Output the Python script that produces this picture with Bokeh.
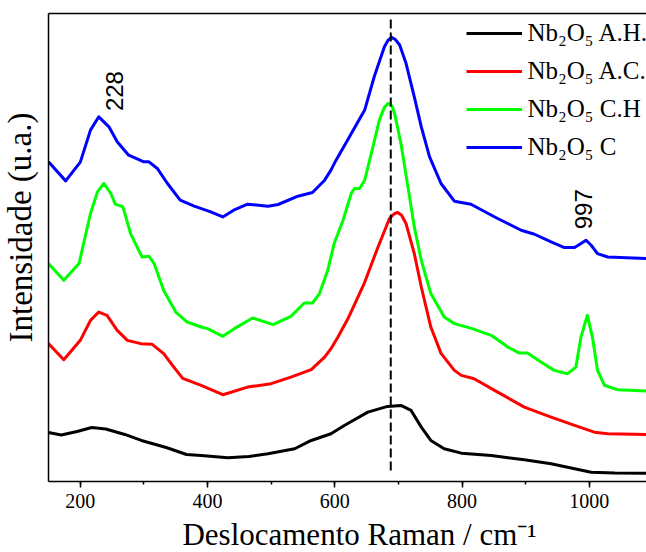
from bokeh.plotting import figure
from bokeh.models import (Range1d, LinearAxis, SingleIntervalTicker, FixedTicker,
                          Legend, LegendItem, ColumnDataSource, Label)
from bokeh.embed import file_html
from bokeh.resources import INLINE
from bokeh.core.properties import value

# ---------------- data (Raman shift in cm-1, intensity in arbitrary units) -------------
x_ah = [150, 170, 195, 218, 240, 270, 296, 335, 367, 390, 432, 465, 495, 537, 563, 594,
        615, 626, 652, 683, 704, 720, 736, 751, 772, 799, 846, 898, 940, 977, 1003, 1040, 1090]
y_ah = [50, 47.4, 51, 55, 53.5, 48, 42, 35, 28, 27, 24.7, 26, 28.7, 33.7, 42, 48.7,
        57, 61, 70.3, 76, 77, 72, 55.3, 42, 33.7, 29.3, 27, 22.7, 18.7, 13.7, 10.3, 9.5, 9.3]

x_ac = [150, 174, 200, 216, 229, 242, 258, 274, 295, 313, 331, 347, 361, 390, 424, 463,
        500, 531, 563, 584, 594, 605, 621, 647, 668, 686, 694, 699, 705, 712, 725, 736, 751, 767,
        788, 799, 819, 856, 898, 940, 977, 1008, 1029, 1090]
y_ac = [138.7, 122.7, 142, 162, 170.3, 167, 152, 142, 138.7, 138, 128.7, 115.3, 104, 97, 87.7, 95.3,
        98.7, 105.3, 112.7, 125.3, 133.7, 145.3, 164, 200, 235.3, 263.7, 268.7, 269.7, 267, 258.7, 228.7, 195.3, 155.3, 129,
        112, 107, 103.7, 90.3, 75.3, 65.3, 57, 50.3, 48.7, 48]

x_ch = [150, 174, 198, 216, 227, 237, 248, 255, 267, 279, 297, 308, 316, 331, 350, 368,
        390, 400, 424, 442, 471, 503, 531, 552, 565, 576, 589, 599, 613, 626, 631, 639,
        647, 660, 670, 678, 684, 690, 694, 704, 715, 725, 736, 751, 772, 788, 816, 846, 872, 890,
        903, 924, 945, 966, 979, 987, 997, 1005, 1013, 1024, 1045, 1090]
y_ch = [218.7, 202, 218.7, 268.7, 290.3, 298.7, 288.7, 278, 275.3, 248.7, 225.3, 226, 218.7, 192, 170.3, 160.3,
        155.3, 153.7, 146, 153.7, 164.3, 157.7, 166, 179.3, 179.3, 188.7, 212, 238.7, 262, 289, 293.7, 293.7,
        302, 335.3, 362, 374.7, 378.7, 376, 368.7, 338.7, 295.3, 255.3, 222, 188.7, 165.3, 158.7, 153.7, 147, 135.3, 129.3,
        129.3, 120.3, 112, 108.7, 115.3, 145.3, 167, 145.3, 112, 97, 92.7, 91.3]

x_c = [150, 177, 200, 216, 229, 245, 258, 276, 300, 308, 321, 337, 357, 379, 405, 424,
       441, 463, 495, 511, 542, 565, 584, 594, 602, 620, 647, 662, 678, 684, 689, 695, 702, 712,
       725, 736, 749, 767, 788, 814, 856, 893, 914, 940, 961, 977, 987, 995, 1003, 1013,
       1029, 1090]
y_c = [320.3, 301.3, 320, 352, 365.3, 355.3, 340.3, 327, 320.3, 320.3, 313.7, 298.7, 282, 276, 270.3, 265.3,
       272, 278, 276, 277.7, 286, 289.7, 302, 312, 322, 342, 372, 405.3, 435.3, 442, 444.7, 442.7, 437, 418.7,
       385.3, 355.3, 325.3, 298.7, 281, 278, 263.7, 252, 248, 240.3, 234.7, 234.7, 238.7, 242, 237, 228.7,
       225.3, 223.7]

series_labels = ["Nb\u2082O\u2085 A.H.", "Nb\u2082O\u2085 A.C.", "Nb\u2082O\u2085 C.H", "Nb\u2082O\u2085 C"]
series_colors = ["#000000", "#ff0000", "#00ff00", "#0000ff"]

peak_main = 688            # dashed reference line position
peak_labels = ["228", "997"]
peak_x = [228, 997]
peak_y = [371, 253]
peak_dx = [16, -4]

x_title = "Deslocamento Raman / cm\u207b\u00b9"
y_title = "Intensidade (u.a.)"

x_ticks_interval = 200
x_start, x_end = 150, 1090
y_start, y_end = 1, 468.5

# ---------------- figure ----------------
serif = "Liberation Serif"
p = figure(width=646, height=552, output_backend="svg", toolbar_location=None,
           x_range=Range1d(x_start, x_end), y_range=Range1d(y_start, y_end),
           min_border_left=48, min_border_top=13, min_border_right=0, min_border_bottom=71,
           background_fill_color="white", border_fill_color="white")
p.outline_line_color = None
p.grid.visible = False

xa = p.xaxis[0]
xa.ticker = SingleIntervalTicker(interval=x_ticks_interval, num_minor_ticks=2)
xa.major_label_text_font = serif
xa.major_label_text_font_size = "20px"
xa.major_label_text_color = "#000000"
xa.major_label_standoff = 6
xa.axis_line_width = 1.5
xa.axis_line_color = "#000000"
xa.major_tick_line_width = 1.5
xa.minor_tick_line_width = 1.5
xa.major_tick_in = 0
xa.major_tick_out = 6
xa.minor_tick_in = 0
xa.minor_tick_out = 3

ya = p.yaxis[0]
ya.ticker = FixedTicker(ticks=[])
ya.major_label_text_font_size = "0px"
ya.axis_line_width = 1.5
ya.axis_line_color = "#000000"
ya.major_tick_line_color = None
ya.minor_tick_line_color = None

top = LinearAxis(ticker=FixedTicker(ticks=[]), major_label_text_font_size="0px",
                 axis_line_width=1.5, axis_line_color="#000000",
                 major_tick_line_color=None, minor_tick_line_color=None)
p.add_layout(top, "above")

# axis titles, in the side panels
p.add_layout(Label(x=311, y=11, x_units="screen", y_units="screen", text=x_title,
                   text_align="center", text_baseline="alphabetic",
                   text_font=serif, text_font_size="31px", text_color="#000000"), "below")
p.add_layout(Label(x=8, y=254, x_units="screen", y_units="screen", text=y_title,
                   angle=1.5708, text_align="center", text_baseline="alphabetic",
                   text_font=serif, text_font_size="33px", text_color="#000000"), "left")

# ---------------- curves ----------------
renderers = []
for xs, ys, col in [(x_ah, y_ah, series_colors[0]), (x_ac, y_ac, series_colors[1]),
                    (x_ch, y_ch, series_colors[2]), (x_c, y_c, series_colors[3])]:
    r = p.line(xs, ys, line_color=col, line_width=3, line_join="round")
    renderers.append(r)

# dashed reference line
p.segment(x0=[peak_main], y0=[12], x1=[peak_main], y1=[466], line_color="#000000",
          line_width=2, line_dash="9 4")

# peak labels
src = ColumnDataSource(dict(x=peak_x, y=peak_y, t=peak_labels, dx=peak_dx))
p.text(x="x", y="y", text="t", source=src, angle=1.5708, text_font=value("Liberation Sans"),
       text_font_size="24px", text_color="#000000", text_align="left",
       text_baseline="alphabetic", x_offset="dx")

legend = Legend(items=[LegendItem(label=l, renderers=[r]) for l, r in zip(series_labels, renderers)],
                location=(417.5, 319), orientation="vertical",
                glyph_width=56, glyph_height=30, label_height=30, label_standoff=6, spacing=8,
                padding=0, margin=0, border_line_color=None, background_fill_alpha=0,
                label_text_font=serif, label_text_font_size="25px", label_text_color="#000000")
p.add_layout(legend)

open("out.html", "w").write(file_html(p, INLINE))
